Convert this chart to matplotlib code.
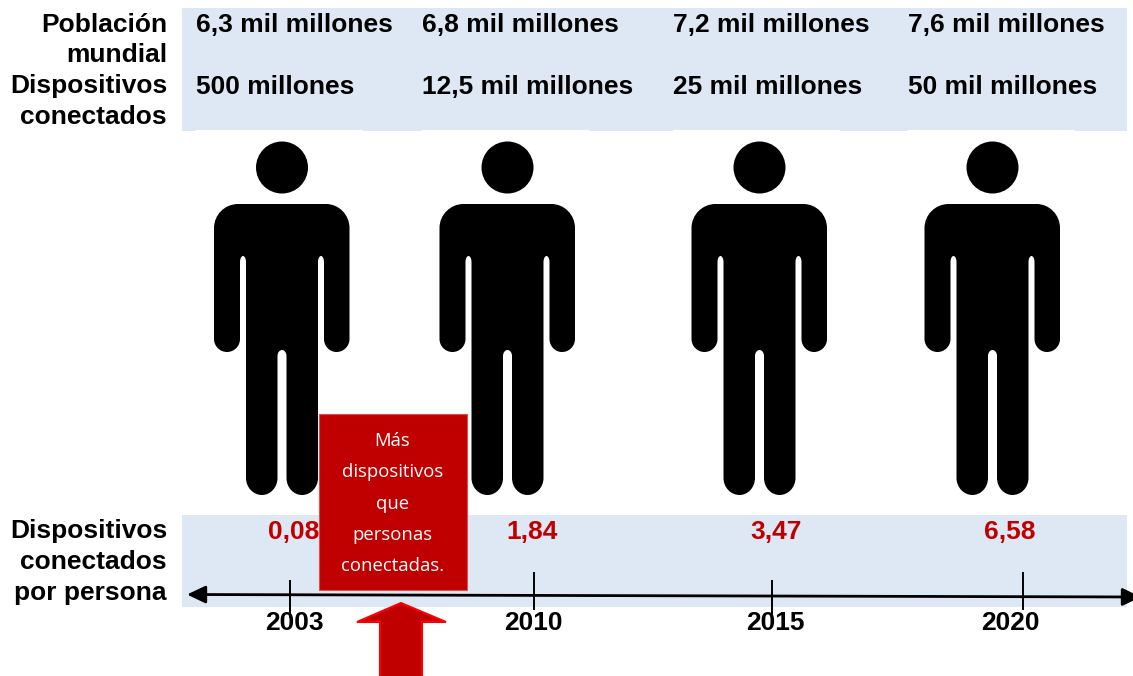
import matplotlib
matplotlib.use("Agg")
import matplotlib.pyplot as plt
from matplotlib.patches import Circle, PathPatch, Polygon, Rectangle
from matplotlib.path import Path

years = ["2003", "2010", "2015", "2020"]
poblacion = ["6,3 mil millones", "6,8 mil millones", "7,2 mil millones", "7,6 mil millones"]
dispositivos = ["500 millones", "12,5 mil millones", "25 mil millones", "50 mil millones"]
por_persona = [0.08, 1.84, 3.47, 6.58]
row_labels = ["Población", "mundial", "Dispositivos", "conectados"]
row_labels_bottom = ["Dispositivos", "conectados", "por persona"]
nota = ["Más", "dispositivos", "que", "personas", "conectadas."]

BAND = "#DEE8F4"
RED = "#C00000"
BOLD = dict(family="Liberation Sans", fontweight="bold")

column_x = [196, 422, 673, 908]
person_x = [282, 507.5, 759.5, 992.5]
tick_x = [290, 534, 772, 1023]
tick_top = [581, 573, 581, 573]
tick_bottom = [617, 609, 616, 609]
value_x = [294, 532, 776, 1010]
year_x = [294, 533, 775, 1010]

K = 0.55


def person_path(cx):
    # body outline, offsets are from the centre line of the figure
    verts, codes = [], []

    def move(x, y):
        verts.append((cx + x, y))
        codes.append(Path.MOVETO)

    def line(x, y):
        verts.append((cx + x, y))
        codes.append(Path.LINETO)

    def corner(x0, y0, x1, y1, horizontal_first):
        # quarter ellipse from (x0, y0) to (x1, y1)
        if horizontal_first:
            c1 = (x0 + K * (x1 - x0), y0)
            c2 = (x1, y1 - K * (y1 - y0))
        else:
            c1 = (x0, y0 + K * (y1 - y0))
            c2 = (x1 - K * (x1 - x0), y1)
        verts.extend([(cx + c1[0], c1[1]), (cx + c2[0], c2[1]), (cx + x1, y1)])
        codes.extend([Path.CURVE4] * 3)

    move(-44, 204)
    line(44, 204)
    corner(44, 204, 67.5, 228, True)
    line(67.5, 339)
    corner(67.5, 339, 54.5, 352, False)
    corner(54.5, 352, 42, 339, True)
    line(42, 262)
    corner(42, 262, 39, 256, False)
    corner(39, 256, 36, 262, True)
    line(36, 478)
    corner(36, 478, 20, 495, False)
    corner(20, 495, 4.5, 478, True)
    line(4.5, 356)
    corner(4.5, 356, 0, 350, False)
    corner(0, 350, -4.5, 356, True)
    line(-4.5, 478)
    corner(-4.5, 478, -20, 495, False)
    corner(-20, 495, -36, 478, True)
    line(-36, 262)
    corner(-36, 262, -39, 256, False)
    corner(-39, 256, -42, 262, True)
    line(-42, 339)
    corner(-42, 339, -55, 352, False)
    corner(-55, 352, -68, 339, True)
    line(-68, 228)
    corner(-68, 228, -44, 204, False)
    return Path(verts, codes)


fig = plt.figure(figsize=(11.33, 6.76), dpi=100)
ax = fig.add_axes([0, 0, 1, 1])
ax.set_xlim(0, 1133)
ax.set_ylim(676, 0)
ax.axis("off")

# background bands
ax.add_patch(Rectangle((182, 8), 945, 123, fc=BAND, ec="none"))
ax.add_patch(Rectangle((182, 515), 945, 92, fc=BAND, ec="none"))

# row headers
for i, label in enumerate(row_labels):
    ax.text(167, 25 + i * 30.5, label, ha="right", va="center", fontsize=19, **BOLD)
for i, label in enumerate(row_labels_bottom):
    ax.text(167, 531 + i * 31, label, ha="right", va="center", fontsize=19, **BOLD)

for i, year in enumerate(years):
    # the text cells stop just short of the band's lower edge
    ax.add_patch(Rectangle((column_x[i], 129.5), 167, 2, fc="white", ec="none"))
    ax.text(column_x[i], 25, poblacion[i], ha="left", va="center", fontsize=19, **BOLD)
    ax.text(column_x[i], 87, dispositivos[i], ha="left", va="center", fontsize=19, **BOLD)

    ax.add_patch(Circle((person_x[i], 167.5), 26, fc="black", ec="none"))
    ax.add_patch(PathPatch(person_path(person_x[i]), fc="black", ec="none"))

    ax.text(value_x[i], 532, f"{por_persona[i]:.2f}".replace(".", ","), color=RED,
            ha="center", va="center", fontsize=19, **BOLD)
    ax.plot([tick_x[i], tick_x[i]], [tick_top[i], tick_bottom[i]], color="black", lw=1.4)
    ax.text(year_x[i], 623, year, ha="center", va="center", fontsize=19, **BOLD)

# timeline, runs slightly downhill
ax.annotate("", xy=(1141, 597), xytext=(187, 594.5), annotation_clip=False,
            arrowprops=dict(arrowstyle="<|-|>,head_length=0.8,head_width=0.38", color="black",
                            lw=2, mutation_scale=14, shrinkA=0, shrinkB=0))

# callout box and arrow
ax.add_patch(Rectangle((319, 414), 148, 176, fc=RED, ec="#D85050", lw=0.8, zorder=4))
for i, linea in enumerate(nota):
    ax.text(392.5, 441 + i * 31.3, linea, color="white", family="Open Sans", fontsize=13.3,
            ha="center", va="center", zorder=5)

ax.add_patch(Polygon([(401, 603), (446, 622), (422, 622), (422, 680), (380, 680), (380, 622), (357, 622)],
                     closed=True, fc=RED, ec="#FF0000", lw=1.5, zorder=4))

fig.savefig("out.png", dpi=100)
